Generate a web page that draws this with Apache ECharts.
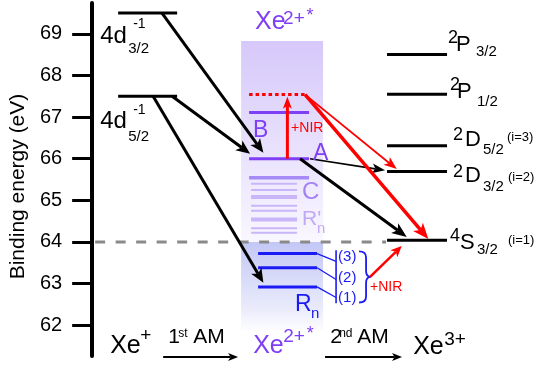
<!DOCTYPE html>
<html><head><meta charset="utf-8">
<script src="https://cdn.jsdelivr.net/npm/echarts@6/dist/echarts.min.js"></script>
<style>html,body{margin:0;padding:0;background:#fff}#c{width:539px;height:368px}</style>
</head><body><div id="c"></div>
<script>
// ---------------- data (energies in eV) ----------------
const yTicks = [62, 63, 64, 65, 66, 67, 68, 69];
const xePlusNames = ['4d3/2', '4d5/2'];
const xePlusE = [69.50, 67.50];
const xe2Names = ['NIR', 'B', 'A', 'C'];
const xe2E = [67.54, 67.11, 66.00, 65.54];
const rPrimeE = [65.40, 65.25, 65.08, 64.87, 64.75, 64.54, 64.33, 64.22];
const rnNames = ['(3)', '(2)', '(1)'];
const rnE = [63.72, 63.38, 62.92];
const xe3Names = ['2P3/2', '2P1/2', '2D5/2', '2D3/2', '4S3/2'];
const xe3E = [68.50, 67.55, 66.31, 65.69, 64.04];
const thresholdE = 64.0;
const bandTopE = 68.83, bandBottomE = 61.88;
// transitions: start energy -> arrow-tip energy
const transFromE = [69.50, 67.50, 67.50, 66.00, 66.00, 67.54, 67.54, 66.00, 63.16];
const transToE   = [66.14, 66.12, 63.02, 65.72, 64.12, 65.75, 64.07, 67.49, 63.90];
const yMin = 61.26, yMax = 69.74;

// ---------------- layout / style ----------------
const FONT = '"Liberation Sans", Arial, Helvetica, sans-serif';
const PURPLE = '#7f3ff5', BLUE = '#1a1af5', RED = '#ff0000';
const C_COL = '#a383f5', RP_COL = '#c9b6f8', RP_TXT = '#c0aaf6';
const COL = {
  xp: [118, 177], x2: [249, 309], nir: [249, 307], rp: [251, 297], rn: [258, 317], x3: [387, 447],
  band: [241, 323], dash: [95, 386], bracket: 336, brace: [359, 366, 371], am1: [163, 238], am2: [325, 402], axis: 92
};
const rPrimeStyle = [4, 4, 5, 4, 4, 5, 4, 4];
const transFromX = [161.7, 172, 153, 310, 300, 305, 305, 287.3, 370];
const transToX   = [263.3, 250, 263.3, 385, 406.7, 396.7, 428.3, 287.3, 401.7];
const transStyle = [
  {c:'#000', w:3, L:14, W:6}, {c:'#000', w:3, L:14, W:6}, {c:'#000', w:3, L:14, W:6},
  {c:'#000', w:1.6, L:13, W:5}, {c:'#000', w:3, L:15, W:6},
  {c:RED, w:1.8, L:13, W:5}, {c:RED, w:3.5, L:16, W:6.5}, {c:RED, w:3, L:12, W:4.5}, {c:RED, w:2.5, L:11, W:5}
];
const levelStyles = [
  {c:'#000', w:3}, {c:RED, w:3, dash:[3.5, 3]}, {c:PURPLE, w:3}, {c:'#a68af6', w:3.5},
  {c:RP_COL, w:2}, {c:RP_COL, w:4}, {c:BLUE, w:3}
];
const rnConnOff = [7.7, 11.7, 10.6];

// level rows [x0, x1, E, style]
const levelRows = [];
xePlusE.forEach(e => levelRows.push([COL.xp[0], COL.xp[1], e, 0]));
levelRows.push([COL.nir[0], COL.nir[1], xe2E[0], 1]);
levelRows.push([COL.x2[0], COL.x2[1], xe2E[1], 2]);
levelRows.push([COL.x2[0], COL.x2[1], xe2E[2], 2]);
levelRows.push([COL.x2[0], COL.x2[1], xe2E[3], 3]);
rPrimeE.forEach((e, i) => levelRows.push([COL.rp[0], COL.rp[1], e, rPrimeStyle[i]]));
rnE.forEach(e => levelRows.push([COL.rn[0], COL.rn[1], e, 6]));
xe3E.forEach(e => levelRows.push([COL.x3[0], COL.x3[1], e, 0]));

// labels
const L = [];
function lab(x, E, dx, dy, t, s, c) { L.push({x, E, dx, dy, t, s, c: c || '#000'}); }
// Xe+ levels
lab(COL.xp[0], xePlusE[0], -18, 23.4, '4d', 24);
lab(COL.xp[0], xePlusE[0], 15, 10.7, '-1', 14);
lab(COL.xp[0], xePlusE[0], 10, 35.7, '3/2', 15);
lab(COL.xp[0], xePlusE[1], -18, 25.3, '4d', 24);
lab(COL.xp[0], xePlusE[1], 15, 14.3, '-1', 14);
lab(COL.xp[0], xePlusE[1], 10, 41.0, '5/2', 15);
// Xe2+* header
lab(COL.band[0], bandTopE, 14, -18.5, 'Xe', 25, PURPLE);
lab(COL.band[0], bandTopE, 42, -22, '2+', 19, PURPLE);
lab(COL.band[0], bandTopE, 65.5, -24.5, '*', 18, PURPLE);
// Xe2+* levels
lab(COL.x2[0], xe2E[1], 4, 17.8, 'B', 23, PURPLE);
lab(COL.x2[0], xe2E[1], 42, 15.8, '+NIR', 14, RED);
lab(COL.x2[1], xe2E[2], 4, -4.8, 'A', 23, PURPLE);
lab(COL.x2[1], xe2E[3], -7, 14.7, 'C', 24, C_COL);
lab(COL.x2[1], xe2E[3], -7, 41.7, "R'", 21, RP_TXT);
lab(COL.x2[1], xe2E[3], 8, 50.7, 'n', 15, RP_TXT);
lab(COL.rn[1], rnE[2], -22, 17.3, 'R', 23, BLUE);
lab(COL.rn[1], rnE[2], -6, 27.3, 'n', 15, BLUE);
lab(COL.rn[1], rnE[0], 21, 3, rnNames[0], 15, BLUE);
lab(COL.rn[1], rnE[1], 21, 10.2, rnNames[1], 15, BLUE);
lab(COL.rn[1], rnE[2], 21, 10.8, rnNames[2], 15, BLUE);
lab(COL.rn[1], rnE[2], 53, 0.3, '+NIR', 14, RED);
// Xe3+ levels
lab(COL.x3[1], xe3E[0], 1, -16.5, '2', 18); lab(COL.x3[1], xe3E[0], 9, -9.5, 'P', 22); lab(COL.x3[1], xe3E[0], 29, -3, '3/2', 15);
lab(COL.x3[1], xe3E[1], 3, -8.8, '2', 18); lab(COL.x3[1], xe3E[1], 10, -1.8, 'P', 22); lab(COL.x3[1], xe3E[1], 30, 7.4, '1/2', 15);
lab(COL.x3[1], xe3E[2], 6, -11, '2', 18); lab(COL.x3[1], xe3E[2], 18, -6, 'D', 22); lab(COL.x3[1], xe3E[2], 36, 4, '5/2', 15); lab(COL.x3[1], xe3E[2], 60, -8.5, '(i=3)', 13);
lab(COL.x3[1], xe3E[3], 6, 0.8, '2', 18); lab(COL.x3[1], xe3E[3], 18, 4.3, 'D', 22); lab(COL.x3[1], xe3E[3], 36, 14.8, '3/2', 15); lab(COL.x3[1], xe3E[3], 61, 5.8, '(i=2)', 13);
lab(COL.x3[1], xe3E[4], 3, -4.2, '4', 18); lab(COL.x3[1], xe3E[4], 13, 2.8, 'S', 22); lab(COL.x3[1], xe3E[4], 30, 9.3, '3/2', 15); lab(COL.x3[1], xe3E[4], 61, 0.3, '(i=1)', 13);
// bottom row
lab(COL.axis, yMin, 18, -10, 'Xe', 25); lab(COL.axis, yMin, 48, -20, '+', 19);
lab(COL.axis, yMin, 76, -19, '1', 21); lab(COL.axis, yMin, 86, -22.5, 'st', 12); lab(COL.axis, yMin, 101, -19, 'AM', 21);
lab(COL.axis, yMin, 161, -10, 'Xe', 25, PURPLE); lab(COL.axis, yMin, 191, -19, '2+', 19, PURPLE); lab(COL.axis, yMin, 214.5, -22, '*', 18, PURPLE);
lab(COL.axis, yMin, 238, -19, '2', 21); lab(COL.axis, yMin, 247, -22.5, 'nd', 12); lab(COL.axis, yMin, 265, -19, 'AM', 21);
lab(COL.axis, yMin, 321, -9, 'Xe', 25); lab(COL.axis, yMin, 352, -16, '3+', 19);

// ---------------- helpers ----------------
function arrowGroup(p0, p1, color, width, Lh, W) {
  const dx = p1[0] - p0[0], dy = p1[1] - p0[1];
  const len = Math.hypot(dx, dy), ux = dx / len, uy = dy / len, px = -uy, py = ux;
  const notch = Lh * 0.25;
  const bx = p1[0] - ux * Lh, by = p1[1] - uy * Lh;
  const nx = p1[0] - ux * (Lh - notch), ny = p1[1] - uy * (Lh - notch);
  return {type: 'group', children: [
    {type: 'line', shape: {x1: p0[0], y1: p0[1], x2: nx, y2: ny}, style: {stroke: color, lineWidth: width}},
    {type: 'polygon', shape: {points: [[p1[0], p1[1]], [bx + px * W, by + py * W], [nx, ny], [bx - px * W, by - py * W]]}, style: {fill: color}}
  ]};
}

const chart = echarts.init(document.getElementById('c'));
const option = {
  animation: false,
  grid: {left: 92, right: 0, top: 3, bottom: 12},
  xAxis: {type: 'value', min: 92, max: 539, show: false},
  yAxis: {
    type: 'value', min: yMin, max: yMax,
    axisLine: {show: true, onZero: false, lineStyle: {color: '#000', width: 4}},
    axisTick: {show: true, inside: false, length: 20, customValues: yTicks, lineStyle: {color: '#000', width: 3}},
    axisLabel: {show: true, customValues: yTicks, margin: 30, fontSize: 20, color: '#000', fontFamily: FONT},
    splitLine: {show: false},
    name: 'Binding energy (eV)', nameLocation: 'middle', nameGap: 60,
    nameTextStyle: {fontSize: 21, color: '#000', fontFamily: FONT, padding: [0, 14, 0, 0]}
  },
  series: [
    { // shaded bands
      type: 'custom', z: 1, silent: true,
      data: [[COL.band[0], COL.band[1], bandTopE, thresholdE, 0], [COL.band[0], COL.band[1], thresholdE, bandBottomE, 1]],
      encode: {x: [0, 1], y: [2, 3]},
      renderItem(params, api) {
        const a = api.coord([api.value(0), api.value(2)]);
        const b = api.coord([api.value(1), api.value(3)]);
        const k = api.value(4);
        const stops = k === 0
          ? [{offset: 0, color: '#d6c8fa'}, {offset: 1, color: '#f9f7ff'}]
          : [{offset: 0, color: '#c3c7f5'}, {offset: 0.75, color: '#e9ebfb'}, {offset: 1, color: '#fdfdff'}];
        return {type: 'rect', shape: {x: a[0], y: a[1], width: b[0] - a[0], height: b[1] - a[1]},
          style: {fill: new echarts.graphic.LinearGradient(0, 0, 0, 1, stops)}};
      }
    },
    { // threshold dashed line
      type: 'custom', z: 2, silent: true,
      data: [[COL.dash[0], COL.dash[1], thresholdE]],
      encode: {x: [0, 1], y: 2},
      renderItem(params, api) {
        const a = api.coord([api.value(0), api.value(2)]);
        const b = api.coord([api.value(1), api.value(2)]);
        return {type: 'line', shape: {x1: a[0], y1: a[1], x2: b[0], y2: b[1]},
          style: {stroke: '#8a8a8a', lineWidth: 3, lineDash: [10, 10.5]}};
      }
    },
    { // energy levels
      type: 'custom', z: 3, silent: true,
      data: levelRows, encode: {x: [0, 1], y: 2},
      renderItem(params, api) {
        const a = api.coord([api.value(0), api.value(2)]);
        const b = api.coord([api.value(1), api.value(2)]);
        const st = levelStyles[api.value(3)];
        return {type: 'line', shape: {x1: a[0], y1: a[1], x2: b[0], y2: b[1]},
          style: {stroke: st.c, lineWidth: st.w, lineDash: st.dash || null}};
      }
    },
    { // Rn connectors, bracket and brace
      type: 'custom', z: 3, silent: true,
      data: [[0]], encode: {x: 0, y: 0},
      renderItem(params, api) {
        const ch = [];
        const ys = rnE.map(e => api.coord([COL.rn[1], e]));
        const bx = api.coord([COL.bracket, rnE[0]])[0];
        ys.forEach((p, i) => ch.push({type: 'line', shape: {x1: p[0], y1: p[1], x2: bx, y2: p[1] + rnConnOff[i]}, style: {stroke: BLUE, lineWidth: 1.3}}));
        ch.push({type: 'line', shape: {x1: bx, y1: ys[0][1] - 3.3, x2: bx, y2: ys[2][1] + 16.3}, style: {stroke: BLUE, lineWidth: 1.6}});
        const x0 = api.coord([COL.brace[0], rnE[0]])[0], x1 = api.coord([COL.brace[1], rnE[0]])[0], x2 = api.coord([COL.brace[2], rnE[0]])[0];
        const top = ys[0][1] - 2.3, bot = ys[2][1] + 15.6, mid = api.coord([COL.brace[2], transFromE[8]])[1];
        const d = `M${x0},${top} Q${x1},${top} ${x1},${top + 6} L${x1},${mid - 6} Q${x1},${mid} ${x2},${mid} Q${x1},${mid} ${x1},${mid + 6} L${x1},${bot - 6} Q${x1},${bot} ${x0},${bot}`;
        ch.push({type: 'path', shape: {pathData: d}, style: {stroke: BLUE, lineWidth: 1.8, fill: null}});
        return {type: 'group', children: ch};
      }
    },
    { // transitions
      type: 'custom', z: 4, silent: true,
      data: transFromE.map((e, i) => [transFromX[i], e, transToX[i], transToE[i], i]),
      encode: {x: [0, 2], y: [1, 3]},
      renderItem(params, api) {
        const p0 = api.coord([api.value(0), api.value(1)]);
        const p1 = api.coord([api.value(2), api.value(3)]);
        const st = transStyle[api.value(4)];
        return arrowGroup(p0, p1, st.c, st.w, st.L, st.W);
      }
    },
    { // AM arrows along the bottom
      type: 'custom', z: 4, silent: true,
      data: [[COL.am1[0], COL.am1[1], yMin], [COL.am2[0], COL.am2[1], yMin]],
      encode: {x: [0, 1], y: 2},
      renderItem(params, api) {
        const a = api.coord([api.value(0), api.value(2)]);
        const b = api.coord([api.value(1), api.value(2)]);
        return arrowGroup([a[0], a[1] + 1], [b[0], b[1] + 1], '#000', 1.8, 10, 4);
      }
    },
    { // text labels
      type: 'custom', z: 5, silent: true,
      data: L.map((l, i) => [l.x, l.E, i]), encode: {x: 0, y: 1},
      renderItem(params, api) {
        const l = L[api.value(2)];
        const p = api.coord([l.x, l.E]);
        return {type: 'text', x: p[0] + l.dx, y: p[1] + l.dy,
          style: {text: l.t, fill: l.c, fontSize: l.s, fontFamily: FONT, textAlign: 'left', textVerticalAlign: 'middle'}};
      }
    }
  ]
};
chart.setOption(option);
</script>
</body></html>
